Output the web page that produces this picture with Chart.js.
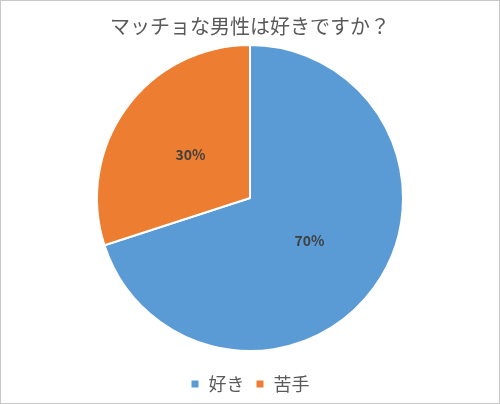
<!DOCTYPE html>
<html>
<head>
<meta charset="utf-8">
<script src="https://cdn.jsdelivr.net/npm/chart.js@4/dist/chart.umd.min.js"></script>
<style>
  html, body { margin: 0; padding: 0; background: #fff; }
  #wrap { width: 500px; height: 404px; box-sizing: border-box; border: 1px solid #c8c8c8; }
</style>
</head>
<body>
<div id="wrap"><canvas id="graficoPie" width="498" height="402"></canvas></div>
<script>
const categorias = ['好き', '苦手'];
const valores = [70, 30];
const cores = ['#5B9BD5', '#ED7D31'];
const titulo = 'マッチョな男性は好きですか？';
const fonte = '"Noto Sans CJK JP", "Noto Sans", sans-serif';

// etiquetas de porcentagem dentro das fatias
const rotulos = {
  id: 'rotulos',
  afterDatasetsDraw(chart) {
    const ctx = chart.ctx;
    const total = valores.reduce((a, b) => a + b, 0);
    chart.getDatasetMeta(0).data.forEach((arc, i) => {
      const ang = (arc.startAngle + arc.endAngle) / 2;
      const r = arc.outerRadius * 0.48;
      const x = arc.x + Math.cos(ang) * r;
      const y = arc.y + Math.sin(ang) * r;
      ctx.save();
      ctx.font = 'bold 14px ' + fonte;
      ctx.fillStyle = '#404040';
      ctx.textAlign = 'center';
      ctx.textBaseline = 'middle';
      ctx.fillText(Math.round(valores[i] / total * 100) + '%', x, y);
      ctx.restore();
    });
  }
};

const ctx = document.getElementById('graficoPie').getContext('2d');
const grafico = new Chart(ctx, {
  type: 'pie',
  data: {
    labels: categorias,
    datasets: [{
      data: valores,
      backgroundColor: cores,
      borderColor: '#fff',
      borderWidth: 2,
      radius: 153
    }]
  },
  options: {
    responsive: false,
    animation: false,
    layout: { padding: 0 },
    plugins: {
      title: {
        display: true,
        text: titulo,
        color: '#595959',
        font: { family: fonte, size: 20, weight: 'normal' },
        padding: { top: 13, bottom: -6 }
      },
      legend: {
        position: 'bottom',
        labels: {
          color: '#595959',
          font: { family: fonte, size: 18 },
          boxWidth: 9,
          boxHeight: 9,
          padding: 11
        }
      },
      tooltip: { enabled: false }
    }
  },
  plugins: [rotulos]
});
</script>
</body>
</html>
